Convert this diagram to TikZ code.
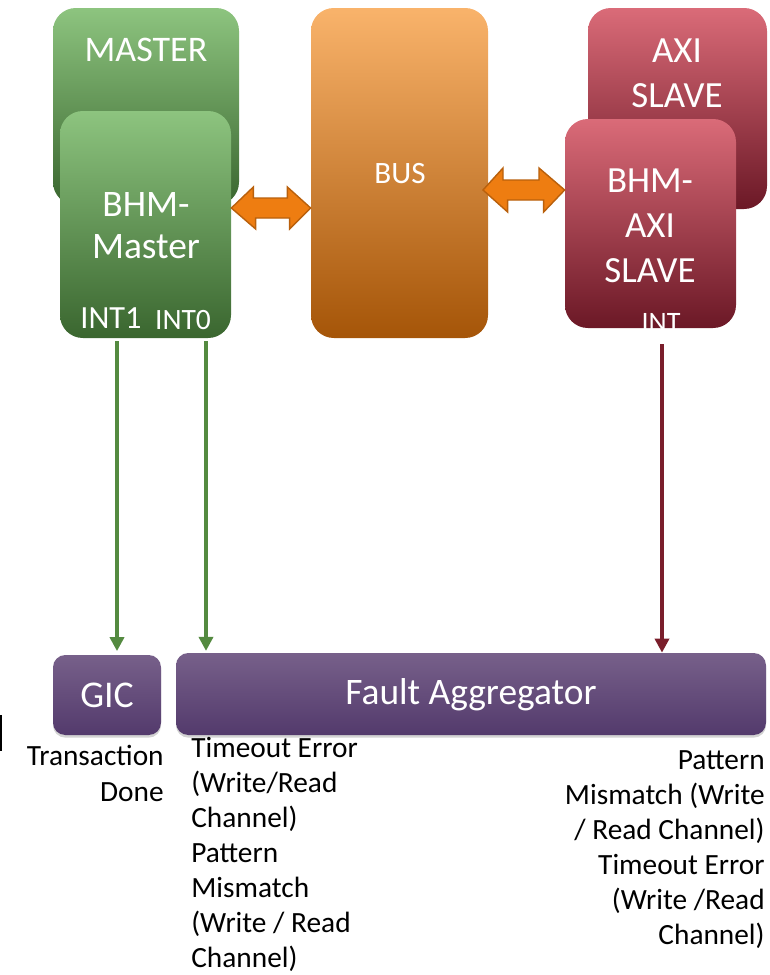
\documentclass[tikz,border=0pt]{standalone}
\usepackage{fontspec}
\setmainfont{Carlito}
\usetikzlibrary{arrows.meta,shadows,calc}
\definecolor{gtop}{HTML}{8DC47F}
\definecolor{gbot}{HTML}{3A662F}
\definecolor{otop}{HTML}{F9B36B}
\definecolor{omid}{HTML}{F1850F}
\definecolor{obot}{HTML}{A55508}
\definecolor{rtop}{HTML}{DA6B78}
\definecolor{rbot}{HTML}{6B1826}
\definecolor{ptop}{HTML}{77608A}
\definecolor{pbot}{HTML}{533A6C}
\definecolor{arrfill}{HTML}{EE7D11}
\definecolor{arredge}{HTML}{B9600C}
\definecolor{gline}{HTML}{548A40}
\definecolor{rline}{HTML}{7A1E2B}
\tikzset{
  blk/.style={rectangle, rounded corners=13pt, inner sep=0pt, draw=none},
  greenblk/.style={blk, top color=gtop, bottom color=gbot},
  orangeblk/.style={blk, top color=otop, middle color=omid, bottom color=obot},
  redblk/.style={blk, top color=rtop, bottom color=rbot},
  purpleblk/.style={blk, rounded corners=7pt, top color=ptop, bottom color=pbot,
     drop shadow={opacity=0.35, shadow xshift=0pt, shadow yshift=-1.5pt}},
  wlabel/.style={text=white, inner sep=0pt, font=\fontsize{21}{24}\selectfont, align=center},
  blabel/.style={text=black, inner sep=0pt, font=\fontsize{16.7}{19.9}\selectfont},
  dblarrow/.style={fill=arrfill, draw=arredge, line width=0.8pt, line join=miter},
  garrow/.style={draw=gline, line width=2pt, -{Triangle[width=8pt,length=8pt]}},
  rarrow/.style={draw=rline, line width=2pt, -{Triangle[width=8pt,length=8pt]}},
}
\begin{document}
\begin{tikzpicture}[x=0.02cm,y=-0.02cm]
\useasboundingbox (0,0) rectangle (769,975);
% blocks
\node[greenblk, minimum width=186*0.02cm, minimum height=197*0.02cm] (master) at (146,106.5) {};
\node[greenblk, minimum width=171*0.02cm, minimum height=227*0.02cm] (bhmm) at (145.5,224.5) {};
\node[orangeblk, minimum width=177*0.02cm, minimum height=330*0.02cm] (bus) at (399.5,173) {};
\node[redblk, minimum width=179*0.02cm, minimum height=201*0.02cm] (axi) at (677.5,108.5) {};
\node[redblk, minimum width=171*0.02cm, minimum height=209*0.02cm] (bhma) at (650.5,223.5) {};
\node[purpleblk, minimum width=108*0.02cm, minimum height=80*0.02cm] (gic) at (107,695) {};
\node[purpleblk, minimum width=590*0.02cm, minimum height=82*0.02cm] (fa) at (471,694) {};
% block labels
\node[wlabel, font=\fontsize{20.5}{24}\selectfont] (tmaster) at (146,50) {MASTER};
\node[wlabel, font=\fontsize{21.3}{24}\selectfont] (tbhmm) at (146,226) {BHM-\\Master};
\node[wlabel, font=\fontsize{18.4}{20}\selectfont] (tint1) at (111,318) {INT1};
\node[wlabel, font=\fontsize{16.8}{18}\selectfont] (tint0) at (183,320) {INT0};
\node[wlabel, font=\fontsize{17.7}{20}\selectfont] (tbus) at (400,174) {BUS};
\node[wlabel, font=\fontsize{21}{25.5}\selectfont] (taxi) at (677,73) {AXI\\SLAVE};
\node[wlabel, font=\fontsize{21}{25.5}\selectfont] (tbhma) at (650,226) {BHM-\\AXI\\SLAVE};
\begin{scope}
  \clip[rounded corners=13pt] (bhma.south west) rectangle (bhma.north east);
  \node[wlabel, font=\fontsize{16}{18}\selectfont, anchor=north] (tint) at (661,313) {INT};
\end{scope}
\node[wlabel, font=\fontsize{21.5}{24}\selectfont] (tgic) at (107,695) {GIC};
\node[wlabel, font=\fontsize{21.3}{24}\selectfont] (tfa) at (471,695) {Fault Aggregator};
% double arrows
\draw[dblarrow] (bhmm.east |- 0,208) -- ++(22,-21) -- ++(0,11) -- ++(34,0) -- ++(0,-11)
   -- (bus.west |- 0,208) -- ++(-21,21) -- ++(0,-11) -- ++(-34,0) -- ++(0,11) -- cycle;
\draw[dblarrow] (483,190) -- ++(20,-22) -- ++(0,12) -- ++(36,0) -- ++(0,-12)
   -- (bhma.west |- 0,190) -- ++(-21,22) -- ++(0,-12) -- ++(-36,0) -- ++(0,12) -- cycle;
% interrupt lines
\coordinate (s1) at (117,341);
\coordinate (s0) at (206,341);
\coordinate (s2) at (662,344);
\draw[garrow, shorten >=2pt] (s1) -- (s1 |- gic.north);
\draw[garrow, shorten >=1pt] (s0) -- (s0 |- fa.north);
\draw[rarrow, shorten >=0pt] (s2) -- (s2 |- fa.north);
% fragment at the left edge
\draw[line width=1pt] (1,715) -- (1,751);
% descriptive texts
\node[blabel, align=right, anchor=north east, font=\fontsize{16.7}{20.3}\selectfont] (tdone) at (164,745) {Transaction\\Done};
\node[blabel, align=left, anchor=north west] (tleft) at (191,737) {Timeout Error\\(Write/Read\\Channel)\\Pattern\\Mismatch\\(Write / Read\\Channel)};
\node[blabel, align=right, anchor=north east] (tright) at (765,750) {Pattern\\Mismatch (Write\\/ Read Channel)\\Timeout Error\\(Write /Read\\Channel)};
\end{tikzpicture}
\end{document}
